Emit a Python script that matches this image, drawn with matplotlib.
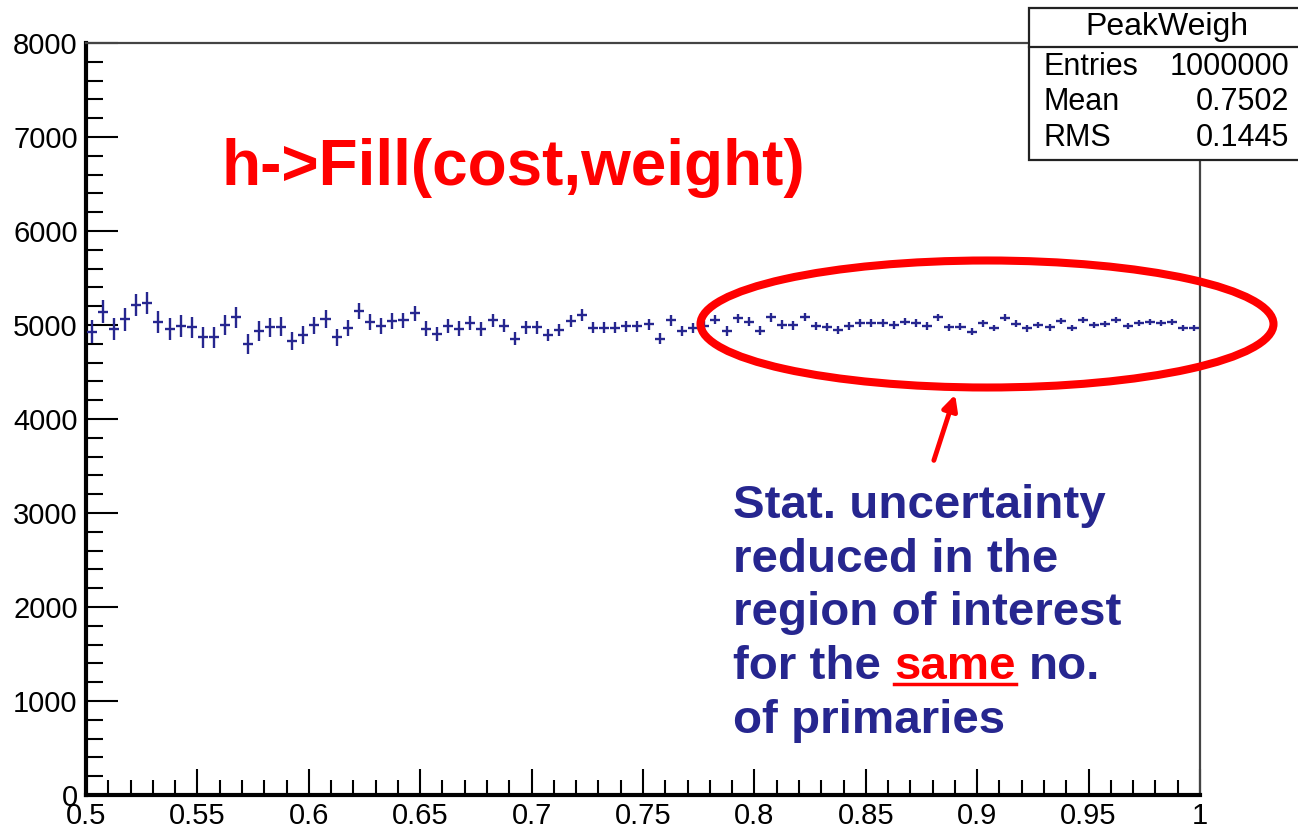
import numpy as np
import matplotlib
matplotlib.use("Agg")
import matplotlib.pyplot as plt
from matplotlib.patches import Ellipse, Rectangle
from matplotlib.lines import Line2D
from matplotlib.ticker import MultipleLocator, FuncFormatter

plt.rcParams['font.family'] = ['Liberation Sans', 'DejaVu Sans']

# histogram definition and contents
x_min, x_max, n_bins = 0.5, 1.0, 100
counts = [
    4930, 5140, 4955, 5060, 5215, 5230, 5035, 4955, 4990, 4975,
    4870, 4870, 5000, 5080, 4800, 4935, 4975, 4980, 4830, 4895,
    4995, 5065, 4868, 4968, 5150, 5035, 4985, 5040, 5048, 5125,
    4960, 4905, 4990, 4962, 5018, 4957, 5048, 4992, 4855, 4975,
    4975, 4895, 4945, 5040, 5106, 4973, 4973, 4973, 4985, 4985,
    5008, 4855, 5048, 4932, 4970, 4990, 5058, 4938, 5070, 5035,
    4940, 5080, 5003, 4995, 5085, 4990, 4975, 4945, 4985, 5020,
    5020, 5020, 5000, 5035, 5020, 4990, 5080, 4975, 4980, 4930,
    5020, 4968, 5076, 5013, 4965, 5000, 4975, 5045, 4965, 5050,
    5000, 5010, 5050, 4985, 5025, 5035, 5020, 5035, 4965, 4965,
]
errors = [
    120, 122, 118, 120, 117, 118, 115, 116, 113, 114,
    112, 110, 109, 107, 106, 103, 102, 100, 98, 96,
    94, 93, 91, 90, 88, 87, 85, 84, 82, 81,
    80, 78, 77, 76, 74, 73, 72, 71, 70, 68,
    67, 66, 65, 64, 63, 62, 61, 60, 59, 58,
    57, 56, 55, 54, 53, 52, 52, 51, 50, 49,
    48, 48, 47, 46, 45, 45, 44, 43, 43, 42,
    41, 41, 40, 40, 39, 39, 38, 38, 37, 37,
    36, 36, 36, 35, 35, 35, 34, 34, 34, 33,
    33, 33, 33, 32, 32, 32, 32, 31, 31, 31,
]
stat_names = ['Entries', 'Mean', 'RMS']
stat_values = ['1000000', '0.7502', '0.1445']
hist_name = 'PeakWeigh'

W, H = 1298, 831
BLUE = '#26268f'
RED = '#ff0000'


def fx(px):
    return px / W


def fy(py):
    return 1 - py / H


fig = plt.figure(figsize=(W / 100, H / 100), dpi=100)
ax = fig.add_axes([fx(86), fy(795), fx(1200) - fx(86), fy(43) - fy(795)])

edges = np.linspace(x_min, x_max, n_bins + 1)
centers = 0.5 * (edges[:-1] + edges[1:])
half_w = 0.5 * (edges[1] - edges[0])
ax.errorbar(centers, counts, xerr=half_w * 0.9, yerr=errors, fmt='none',
            ecolor=BLUE, elinewidth=1.7, capsize=0, zorder=3)

ax.set_xlim(x_min, x_max)
ax.set_ylim(0, 8000)
ax.xaxis.set_major_locator(MultipleLocator(0.05))
ax.xaxis.set_minor_locator(MultipleLocator(0.01))
ax.yaxis.set_major_locator(MultipleLocator(1000))
ax.yaxis.set_minor_locator(MultipleLocator(200))
ax.xaxis.set_major_formatter(FuncFormatter(lambda v, p: '%g' % round(v, 3)))
ax.yaxis.set_major_formatter(FuncFormatter(lambda v, p: '%d' % v))

ax.tick_params(axis='both', which='both', direction='in', width=1.5,
               color='black', labelsize=21, top=False, right=False)
ax.tick_params(axis='x', which='major', length=19, pad=5)
ax.tick_params(axis='x', which='minor', length=10.5)
ax.tick_params(axis='y', which='major', length=23, pad=6)
ax.tick_params(axis='y', which='minor', length=12)

ax.spines['left'].set_linewidth(3)
ax.spines['bottom'].set_linewidth(3)
for s in ['top', 'right']:
    ax.spines[s].set_linewidth(1.6)
    ax.spines[s].set_color('#444444')

# stats box (runs past the right edge, like the original)
box = Rectangle((fx(1029), fy(160)), fx(1310) - fx(1029), fy(8) - fy(160),
                transform=fig.transFigure, facecolor='white',
                edgecolor='#222222', lw=1.6, zorder=10, clip_on=False)
fig.add_artist(box)
fig.add_artist(Line2D([fx(1029), fx(1300)], [fy(47), fy(47)],
                      transform=fig.transFigure, color='#222222', lw=1.6, zorder=11))
fig.text(fx(1167), fy(27), hist_name, fontsize=23, ha='center', va='center', zorder=12)
row_y = [67, 102, 138]
for name, val, ry in zip(stat_names, stat_values, row_y):
    fig.text(fx(1043), fy(ry), name, fontsize=22, ha='left', va='center', zorder=12)
    fig.text(fx(1289), fy(ry), val, fontsize=22, ha='right', va='center', zorder=12)

# annotations
fig.text(fx(222), fy(185), 'h->Fill(cost,weight)', color=RED, fontsize=46,
         fontweight='bold', ha='left', va='baseline')

ell = Ellipse((fx(987), fy(324)), fx(573), 127 / H, transform=fig.transFigure,
              fill=False, edgecolor=RED, lw=5.8, zorder=5)
fig.add_artist(ell)
ax.annotate('', xy=(956, H - 392), xycoords='figure pixels',
            xytext=(933, H - 463), textcoords='figure pixels',
            arrowprops=dict(arrowstyle='-|>,head_length=0.9,head_width=0.45',
                            color=RED, lw=3.5))

lines = ['Stat. uncertainty', 'reduced in the', 'region of interest', None, 'of primaries']
baselines = [518, 572, 625, 679, 733]
fs = 34.2
for txt, b in zip(lines, baselines):
    if txt is not None:
        fig.text(fx(733), fy(b), txt, color=BLUE, fontsize=fs, fontweight='bold',
                 ha='left', va='baseline')

# line with the red underlined word
renderer = fig.canvas.get_renderer()
space = 0.278 * fs * 100 / 72
t1 = fig.text(fx(733), fy(679), 'for the', color=BLUE, fontsize=fs,
              fontweight='bold', ha='left', va='baseline')
bb1 = t1.get_window_extent(renderer)
t2 = fig.text(fx(bb1.x1 + space), fy(679), 'same', color=RED, fontsize=fs,
              fontweight='bold', ha='left', va='baseline')
bb2 = t2.get_window_extent(renderer)
fig.text(fx(bb2.x1 + space), fy(679), 'no.', color=BLUE, fontsize=fs,
         fontweight='bold', ha='left', va='baseline')
fig.add_artist(Line2D([fx(bb2.x0), fx(bb2.x1)], [fy(684), fy(684)],
                      transform=fig.transFigure, color=RED, lw=2.5))

fig.savefig('out.png', dpi=100)
